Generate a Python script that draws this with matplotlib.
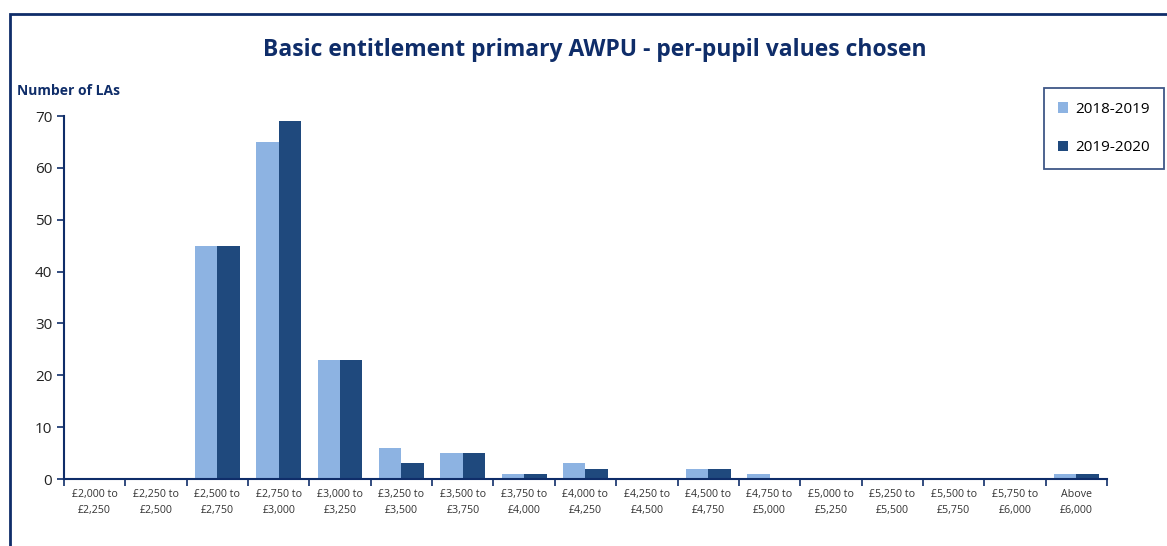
import matplotlib.pyplot as plt
import matplotlib.patches as patches
import numpy as np

bands = ["£2,000 to\n£2,250", "£2,250 to\n£2,500", "£2,500 to\n£2,750", "£2,750 to\n£3,000",
         "£3,000 to\n£3,250", "£3,250 to\n£3,500", "£3,500 to\n£3,750", "£3,750 to\n£4,000",
         "£4,000 to\n£4,250", "£4,250 to\n£4,500", "£4,500 to\n£4,750", "£4,750 to\n£5,000",
         "£5,000 to\n£5,250", "£5,250 to\n£5,500", "£5,500 to\n£5,750", "£5,750 to\n£6,000",
         "Above\n£6,000"]
las_2018_19 = [0, 0, 45, 65, 23, 6, 5, 1, 3, 0, 2, 1, 0, 0, 0, 0, 1]
las_2019_20 = [0, 0, 45, 69, 23, 3, 5, 1, 2, 0, 2, 0, 0, 0, 0, 0, 1]

navy = "#0F2D69"
light = "#8DB3E2"
dark = "#1F497D"

plt.rcParams['font.family'] = ['Open Sans', 'DejaVu Sans']

fig = plt.figure(figsize=(11.67, 5.46), dpi=100)
ax = fig.add_axes([0.0548, 0.1227, 0.8938, 0.6648])

x = np.arange(len(bands))
w = 0.365
ax.bar(x - w / 2, las_2018_19, w, color=light, label="2018-2019")
ax.bar(x + w / 2, las_2019_20, w, color=dark, label="2019-2020")

ax.set_xlim(-0.5, len(bands) - 0.5)
ax.set_ylim(0, 70)
ax.set_yticks(range(0, 71, 10))
ax.tick_params(axis='y', labelsize=11, colors=navy, labelcolor="#222222", length=5, width=1.2)
ax.set_xticks(x)
ax.set_xticklabels(bands, fontsize=7.7, color="#333333", linespacing=1.6)
ax.tick_params(axis='x', which='major', length=0, pad=7)
ax.set_xticks(np.arange(-0.5, len(bands), 1.0), minor=True)
ax.tick_params(axis='x', which='minor', length=5, width=1.2, color=navy)

for s in ['top', 'right']:
    ax.spines[s].set_visible(False)
for s in ['left', 'bottom']:
    ax.spines[s].set_color(navy)
    ax.spines[s].set_linewidth(1.5)

fig.text(0.51, 0.908, "Basic entitlement primary AWPU - per-pupil values chosen",
         ha='center', va='center', fontsize=16.5, fontweight='bold', color=navy)
fig.text(0.0145, 0.834, "Number of LAs", ha='left', va='center',
         fontsize=10, fontweight='bold', color=navy)

leg = fig.legend(loc='upper left', bbox_to_anchor=(1044 / 1167, 1 - 88 / 546), fontsize=11,
                 frameon=True, fancybox=False, handlelength=0.7, handleheight=0.7,
                 handletextpad=0.45, labelspacing=1.55, borderpad=0.9, borderaxespad=0)
leg.get_frame().set_edgecolor(navy)
leg.get_frame().set_linewidth(1.3)

fig.patches.append(patches.Rectangle((10 / 1167, -0.05), 1.2, 1.05 - 14 / 546,
                                     transform=fig.transFigure, fill=False,
                                     edgecolor=navy, linewidth=2, clip_on=False))

plt.savefig("out.png", dpi=100)
